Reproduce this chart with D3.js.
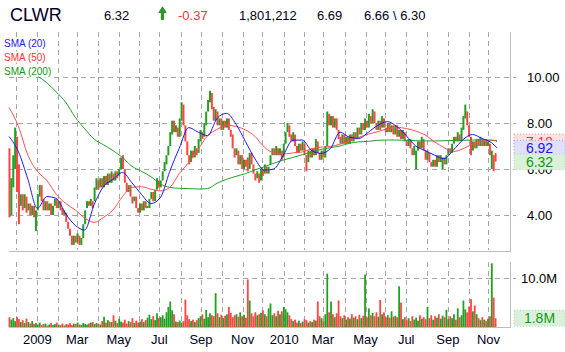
<!DOCTYPE html>
<html>
<head>
<meta charset="utf-8">
<script src="https://cdn.jsdelivr.net/npm/d3@7"></script>
<style>
body { margin: 0; background: #fff; }
svg { display: block; font-family: Arial, "Liberation Sans", sans-serif; }
</style>
</head>
<body>
<svg id="chart" width="565" height="352"></svg>
<script>
'use strict';

// quote line
var symbol = "CLWR";
var quoteTexts = ["6.32", "-0.37", "1,801,212", "6.69", "6.66 \\ 6.30"];

// two-day bars, 2008-11-20 .. 2010-11-12
var opens = [
  6.9, 4.0, 5.2, 6.0, 7.4, 6.2, 4.4, 4.9, 4.3, 4.8,
  4.2, 4.5, 4.0, 4.4, 3.3, 4.2, 4.8, 5.3, 4.7, 4.2,
  4.6, 4.2, 4.5, 4.0, 4.4, 4.7, 4.3, 4.6, 4.3, 4.0,
  4.1, 3.7, 3.4, 3.1, 2.7, 3.1, 2.8, 3.1, 2.7, 3.0,
  3.6, 4.3, 4.6, 4.4, 4.6, 4.6, 5.1, 5.5, 5.2, 5.6,
  5.2, 5.7, 5.3, 5.8, 5.4, 5.8, 5.5, 5.9, 5.7, 6.0,
  6.6, 6.0, 5.4, 5.0, 5.3, 4.8, 4.6, 4.8, 4.3, 4.1,
  4.5, 4.2, 4.6, 4.3, 4.3, 4.7, 5.0, 4.6, 5.1, 5.5,
  5.2, 5.5, 5.9, 6.2, 6.6, 7.0, 7.5, 8.1, 7.6, 7.8,
  7.4, 8.1, 8.8, 7.9, 7.2, 6.6, 6.3, 6.8, 6.5, 6.9,
  6.7, 7.2, 7.6, 7.4, 7.9, 8.5, 8.9, 9.3, 8.7, 8.1,
  8.5, 7.9, 8.2, 7.7, 8.1, 7.8, 8.2, 7.7, 7.5, 6.9,
  6.6, 6.8, 6.2, 6.6, 6.0, 6.4, 6.5, 6.0, 6.7, 6.2,
  5.8, 5.6, 5.8, 5.5, 6.0, 5.8, 6.1, 5.8, 6.2, 6.6,
  6.9, 6.6, 6.9, 6.6, 6.8, 6.5, 7.1, 7.6, 7.9, 7.5,
  7.2, 7.5, 7.0, 6.7, 7.1, 6.8, 7.1, 6.6, 6.3, 6.8,
  6.5, 6.9, 6.6, 7.2, 6.7, 6.4, 6.8, 6.5, 7.0, 8.4,
  7.9, 8.3, 7.8, 8.2, 7.7, 7.4, 7.1, 7.5, 7.1, 7.4,
  7.1, 7.5, 7.2, 7.6, 7.3, 7.8, 7.5, 8.0, 7.7, 8.1,
  7.8, 8.3, 8.0, 8.5, 8.0, 7.7, 8.1, 7.8, 8.2, 7.8,
  7.6, 8.0, 7.6, 7.9, 7.5, 7.9, 7.4, 7.7, 7.3, 7.6,
  7.2, 7.0, 7.3, 6.9, 6.6, 6.0, 6.8, 7.2, 6.9, 7.3,
  6.8, 6.4, 6.7, 6.3, 6.1, 6.4, 6.1, 6.6, 6.3, 6.0,
  6.5, 6.2, 6.6, 6.9, 6.7, 7.1, 7.4, 7.2, 7.5, 7.2,
  7.7, 8.2, 8.5, 7.9, 7.4, 6.8, 7.2, 6.9, 7.3, 7.0,
  7.3, 7.0, 7.3, 7.0, 7.1, 6.0, 6.6, 6.69
];
var closes = [
  3.9, 5.6, 6.6, 7.8, 5.0, 3.6, 4.9, 4.2, 4.9, 4.1,
  4.5, 4.0, 4.4, 3.9, 4.2, 4.9, 5.3, 4.6, 4.2, 4.6,
  4.2, 4.5, 4.0, 4.4, 4.7, 4.3, 4.6, 4.2, 4.0, 4.2,
  3.7, 3.4, 3.1, 2.7, 3.1, 2.8, 3.2, 2.7, 3.0, 3.6,
  4.2, 4.6, 4.4, 4.7, 4.3, 5.2, 5.6, 5.1, 5.6, 5.2,
  5.7, 5.3, 5.8, 5.4, 5.9, 5.5, 5.9, 5.6, 6.0, 6.5,
  6.0, 5.4, 5.0, 5.3, 4.8, 4.5, 4.8, 4.3, 4.1, 4.5,
  4.2, 4.6, 4.3, 4.4, 4.7, 5.0, 4.6, 5.1, 5.6, 5.2,
  5.5, 5.9, 6.3, 6.6, 7.0, 7.6, 8.1, 7.6, 7.9, 7.4,
  8.2, 8.9, 7.9, 7.2, 6.6, 6.2, 6.8, 6.5, 7.0, 6.6,
  7.3, 7.7, 7.3, 8.0, 8.5, 9.0, 9.4, 8.6, 8.1, 8.6,
  7.9, 8.2, 7.7, 8.1, 7.8, 8.2, 7.7, 7.4, 6.9, 6.5,
  6.9, 6.2, 6.6, 6.0, 6.4, 6.1, 5.9, 6.7, 6.2, 5.8,
  5.5, 5.9, 5.4, 6.0, 5.7, 6.2, 5.8, 6.1, 6.6, 6.9,
  6.6, 7.0, 6.6, 6.9, 6.4, 7.1, 7.6, 8.0, 7.4, 7.2,
  7.6, 7.0, 6.7, 7.1, 6.8, 7.2, 6.6, 5.9, 6.8, 6.5,
  6.9, 6.6, 7.3, 6.7, 6.4, 6.8, 6.5, 7.0, 8.5, 7.9,
  8.3, 7.8, 8.2, 7.7, 7.3, 7.1, 7.5, 7.1, 7.4, 7.1,
  7.5, 7.2, 7.6, 7.3, 7.8, 7.5, 8.0, 7.7, 8.2, 7.8,
  8.4, 8.0, 8.6, 8.0, 7.7, 8.1, 7.7, 8.3, 7.8, 7.6,
  8.0, 7.6, 7.9, 7.5, 7.9, 7.4, 7.7, 7.3, 7.7, 7.2,
  7.0, 7.3, 6.9, 6.6, 7.0, 6.8, 7.2, 6.9, 7.4, 6.8,
  6.4, 6.8, 6.3, 6.1, 6.4, 6.1, 6.6, 6.3, 6.6, 6.5,
  6.2, 6.6, 6.9, 6.7, 7.1, 7.4, 7.2, 7.6, 7.2, 7.8,
  8.3, 8.8, 7.9, 7.4, 6.6, 7.2, 6.9, 7.3, 7.0, 7.4,
  7.0, 7.3, 7.0, 7.2, 6.6, 6.8, 5.9, 6.32
];
// volume per bar, millions
var volumes = [
  2.0, 1.5, 1.8, 1.2, 2.0, 1.6, 1.0, 1.4, 0.8, 1.7,
  1.0, 0.7, 1.2, 0.6, 0.8, 0.5, 0.9, 0.4, 0.6, 0.7,
  0.3, 0.5, 0.8, 0.4, 0.6, 0.9, 0.5, 0.4, 0.7, 0.3,
  0.6, 0.5, 0.8, 0.4, 0.7, 0.6, 0.9, 0.5, 0.4, 0.8,
  0.6, 0.5, 0.7, 0.9, 1.0, 0.6, 0.8, 0.7, 0.5, 1.2,
  2.1, 0.9, 1.4, 1.1, 1.0, 2.4, 1.3, 0.8, 1.7, 1.1,
  0.9, 1.5, 0.7, 1.2, 1.0, 1.8, 0.8, 1.3, 0.9, 1.1,
  1.6, 1.0, 1.4, 1.9, 2.5, 1.6, 2.2, 1.4, 2.8, 1.8,
  2.0, 2.4, 1.7, 3.0, 4.1, 5.2, 3.4, 2.6, 1.1, 1.0,
  1.3, 0.9, 1.2, 5.6, 2.4, 1.6, 1.2, 1.5, 1.0, 1.4,
  1.8, 2.2, 2.6, 1.7, 3.5, 2.0, 2.8, 2.4, 2.2, 6.9,
  2.8, 2.0, 2.5, 1.8, 2.3, 2.6, 4.1, 2.9, 2.0, 2.4,
  2.6, 2.1, 3.0, 2.2, 2.5, 1.9, 9.7, 5.4, 2.8, 2.2,
  3.0, 2.4, 2.6, 2.9, 3.4, 2.6, 2.2, 3.8, 4.8, 2.4,
  2.8, 2.2, 3.3, 2.6, 3.2, 4.1, 3.6, 3.0, 2.4, 1.6,
  1.2, 1.5, 0.9, 1.3, 0.8, 1.1, 1.6, 1.4, 0.9, 1.2,
  1.0, 1.5, 1.3, 5.2, 2.2, 1.8, 1.2, 2.6, 10.9, 3.0,
  5.2, 2.6, 2.0, 2.8, 5.4, 2.2, 1.8, 2.4, 1.5, 2.0,
  1.7, 2.6, 1.9, 2.2, 1.6, 2.5, 1.8, 2.3, 10.7, 2.0,
  3.8, 2.4, 2.9, 2.2, 3.0, 2.1, 5.5, 2.6, 3.0, 2.0,
  2.4, 1.9, 3.2, 2.1, 2.3, 2.0, 8.3, 5.0, 1.6, 2.0,
  1.4, 1.8, 1.2, 2.2, 1.5, 1.9, 1.3, 2.4, 1.7, 2.0,
  1.6, 4.1, 1.8, 2.4, 1.5, 2.2, 1.9, 2.6, 1.7, 2.3,
  2.0, 3.5, 1.6, 2.2, 1.8, 2.6, 1.5, 3.8, 2.0, 2.4,
  5.4, 3.6, 3.0, 4.2, 5.7, 3.2, 4.4, 2.6, 1.8, 1.4,
  2.0, 1.5, 1.2, 1.7, 2.2, 13.0, 6.0, 1.8
];

// moving averages, one value every 10 trading days (last one at the final day)
var sma20 = [
  7.41, 6.75, 5.55, 4.29, 4.80, 4.72, 4.05, 3.55, 3.35, 4.45,
  5.25, 5.55, 5.85, 5.40, 4.90, 4.50, 4.75, 5.90, 6.90, 7.80,
  7.60, 7.45, 8.20, 8.42, 7.95, 7.20, 6.45, 5.95, 6.00, 6.60,
  7.25, 7.26, 6.80, 6.68, 6.90, 7.60, 7.38, 7.33, 7.60, 7.90,
  8.06, 7.85, 7.45, 7.00, 6.80, 6.60, 6.45, 6.83, 7.27, 7.50,
  7.33, 7.15, 6.92
];
var sma50 = [
  8.68, 7.85, 6.60, 5.90, 5.50, 4.90, 4.50, 4.22, 3.87, 3.68,
  3.90, 4.22, 4.80, 5.20, 5.23, 5.12, 5.05, 5.20, 5.80, 6.28,
  6.85, 7.45, 7.72, 7.90, 7.85, 7.70, 7.42, 6.95, 6.70, 6.65,
  6.70, 6.74, 6.88, 6.95, 6.98, 7.08, 7.22, 7.38, 7.52, 7.62,
  7.75, 7.81, 7.76, 7.65, 7.48, 7.18, 6.93, 6.76, 6.88, 7.08,
  7.22, 7.26, 7.19
];
var sma200 = [
  null, null, null, 10.05, 9.75, 9.35, 8.90, 8.25, 7.75, 7.30,
  7.05, 6.80, 6.50, 6.12, 5.90, 5.67, 5.35, 5.20, 5.16, 5.15,
  5.13, 5.15, 5.38, 5.55, 5.68, 5.80, 5.96, 6.10, 6.25, 6.39,
  6.50, 6.62, 6.75, 6.85, 6.93, 7.00, 7.12, 7.18, 7.20, 7.25,
  7.26, 7.26, 7.24, 7.23, 7.22, 7.22, 7.23, 7.24, 7.25, 7.26,
  7.26, 7.25, 7.24
];

var priceTicks = [4, 6, 8, 10];
var volumeTicks = [10];
// right-side value tags: SMA(50), SMA(20), last
var tagValues = [7.19, 6.92, 6.32];
var lastVolume = 1.8;

var green = "#22a022", red = "#ff4444", blue = "#1a1aee",
    grid = "#a4a4a4", frame = "#bdbdbd";

var svg = d3.select("#chart");

// trading days (weekdays) of the chart period
var days = d3.timeDay.range(new Date(2008, 10, 20), new Date(2010, 10, 13))
    .filter(function(d){ return d.getDay() % 6 !== 0; });

var x  = d3.scaleLinear().domain([0, days.length - 1]).range([9, 497]),
    y  = d3.scaleLinear().domain([4, 10]).range([215, 77]),
    yv = d3.scaleLinear().domain([0, 10]).range([327, 278]);

var bx = function(i){ return x(2*i + 0.5); };

// month starts
var months = [];
days.forEach(function(d, i){
    if (i > 0 && d.getMonth() !== days[i-1].getMonth()) months.push({i: i, d: d});
});

// grid
var g = svg.append("g").attr("stroke", grid).attr("stroke-dasharray", "5,4");
months.forEach(function(m){
    var xx = Math.round(x(m.i)) + 0.5;
    g.append("line").attr("x1", xx).attr("x2", xx).attr("y1", 32).attr("y2", 250);
    g.append("line").attr("x1", xx).attr("x2", xx).attr("y1", 262).attr("y2", 327);
});
priceTicks.forEach(function(t){
    var yy = Math.round(y(t)) + 0.5;
    g.append("line").attr("x1", 9).attr("x2", 516).attr("y1", yy).attr("y2", yy);
});
volumeTicks.forEach(function(t){
    var yy = Math.round(yv(t)) + 0.5;
    g.append("line").attr("x1", 9).attr("x2", 516).attr("y1", yy).attr("y2", yy);
});

// frames
var f = svg.append("g").attr("stroke", frame).attr("stroke-width", 1);
f.append("line").attr("x1", 510.5).attr("x2", 510.5).attr("y1", 32).attr("y2", 251);
f.append("line").attr("x1", 9).attr("x2", 511).attr("y1", 251.5).attr("y2", 251.5);
f.append("line").attr("x1", 510.5).attr("x2", 510.5).attr("y1", 262).attr("y2", 327.5);
f.append("line").attr("x1", 9).attr("x2", 511).attr("y1", 327.5).attr("y2", 327.5);

var bars = closes.map(function(c, i){ return {i: i, o: opens[i], c: c, v: volumes[i]}; });
var barColor = function(d){ return d.c >= d.o ? green : red; };

// price bars
svg.append("g").selectAll("line").data(bars).enter().append("line")
    .attr("x1", function(d){ return bx(d.i); })
    .attr("x2", function(d){ return bx(d.i); })
    .attr("y1", function(d){ return y(Math.max(d.o, d.c)); })
    .attr("y2", function(d){ return y(Math.min(d.o, d.c)); })
    .attr("stroke", barColor)
    .attr("stroke-width", 2);

// volume bars
svg.append("g").selectAll("rect").data(bars).enter().append("rect")
    .attr("x", function(d){ return bx(d.i) - 0.9; })
    .attr("width", 1.8)
    .attr("y", function(d){ return yv(d.v); })
    .attr("height", function(d){ return yv(0) - yv(d.v); })
    .attr("fill", barColor);

// moving averages
var smaLine = d3.line()
    .defined(function(d){ return d != null; })
    .x(function(d, k){ return x(Math.min(k*10, days.length - 1)); })
    .y(function(d){ return y(d); })
    .curve(d3.curveMonotoneX);
[[sma200, green], [sma50, "#ff5050"], [sma20, blue]].forEach(function(s){
    svg.append("path").datum(s[0])
        .attr("d", smaLine)
        .attr("fill", "none")
        .attr("stroke", s[1])
        .attr("stroke-width", 1);
});

// legend
var legend = [["SMA (20)", blue], ["SMA (50)", "#ff3333"], ["SMA (200)", "#119911"]];
legend.forEach(function(l, k){
    svg.append("text")
        .attr("x", 4).attr("y", 46.5 + k*14)
        .attr("font-size", 10)
        .attr("fill", l[1])
        .attr("stroke", "#fff").attr("stroke-width", 3)
        .attr("paint-order", "stroke")
        .text(l[0]);
});

// price axis labels
svg.append("g").selectAll("text").data(priceTicks).enter().append("text")
    .attr("x", 527)
    .attr("y", function(d){ return y(d) + 4.5; })
    .attr("font-size", 13)
    .attr("fill", "#000")
    .text(function(d){ return d3.format(".2f")(d); });

// value tags on the right (they overlap like the original)
var tagStyles = [
    {fill: "#fde2e2", stroke: "#f4a0a0", text: "#ff3333"},
    {fill: "#e0e0fc", stroke: "#a0a0f0", text: "#1a1aee"},
    {fill: "#daf0da", stroke: "#b0dcb0", text: "#119911"}
];
tagValues.forEach(function(v, k){
    var st = tagStyles[k], cy = y(v);
    svg.append("rect")
        .attr("x", 514).attr("y", cy - 7.5)
        .attr("width", 51).attr("height", 15.5)
        .attr("fill", st.fill)
        .attr("stroke", st.stroke)
        .attr("stroke-dasharray", "1,2");
    svg.append("text")
        .attr("x", 539.5).attr("y", cy + 5)
        .attr("text-anchor", "middle")
        .attr("font-size", 14)
        .attr("fill", st.text)
        .text(d3.format(".2f")(v));
});

// volume labels
svg.append("g").selectAll("text").data(volumeTicks).enter().append("text")
    .attr("x", 521)
    .attr("y", function(d){ return yv(d) + 4.5; })
    .attr("font-size", 13)
    .attr("fill", "#000")
    .text(function(d){ return d3.format(".1f")(d) + "M"; });
svg.append("rect")
    .attr("x", 514).attr("y", yv(lastVolume) - 8)
    .attr("width", 51).attr("height", 16)
    .attr("fill", "#daf0da")
    .attr("stroke", "#b0dcb0")
    .attr("stroke-dasharray", "1,2");
svg.append("text")
    .attr("x", 539.5).attr("y", yv(lastVolume) + 5)
    .attr("text-anchor", "middle")
    .attr("font-size", 14)
    .attr("fill", "#119911")
    .text(d3.format(".1f")(lastVolume) + "M");

// month labels
svg.append("g").selectAll("text")
    .data(months.filter(function(m){ return m.d.getMonth() % 2 === 0; }))
    .enter().append("text")
    .attr("x", function(m){ return x(m.i); })
    .attr("y", 344)
    .attr("text-anchor", "middle")
    .attr("font-size", 13)
    .attr("fill", "#000022")
    .text(function(m){ return m.d.getMonth() === 0 ? d3.timeFormat("%Y")(m.d) : d3.timeFormat("%b")(m.d); });

// header
svg.append("text").attr("x", 10).attr("y", 21).attr("font-size", 18)
    .attr("fill", "#000022").text(symbol);
var hx = [104, 178, 239, 317, 364];
quoteTexts.forEach(function(t, k){
    svg.append("text").attr("x", hx[k]).attr("y", 19.5).attr("font-size", 13)
        .attr("fill", k === 1 ? "#ff3333" : "#000022").text(t);
});
// up arrow
svg.append("path")
    .attr("d", "M161.3,19.5V12.5H158.8L162.5,6.8L166.2,12.5H163.7V19.5Z")
    .attr("fill", green)
    .attr("stroke", "#0d5a0d")
    .attr("stroke-width", 0.6);
</script>
